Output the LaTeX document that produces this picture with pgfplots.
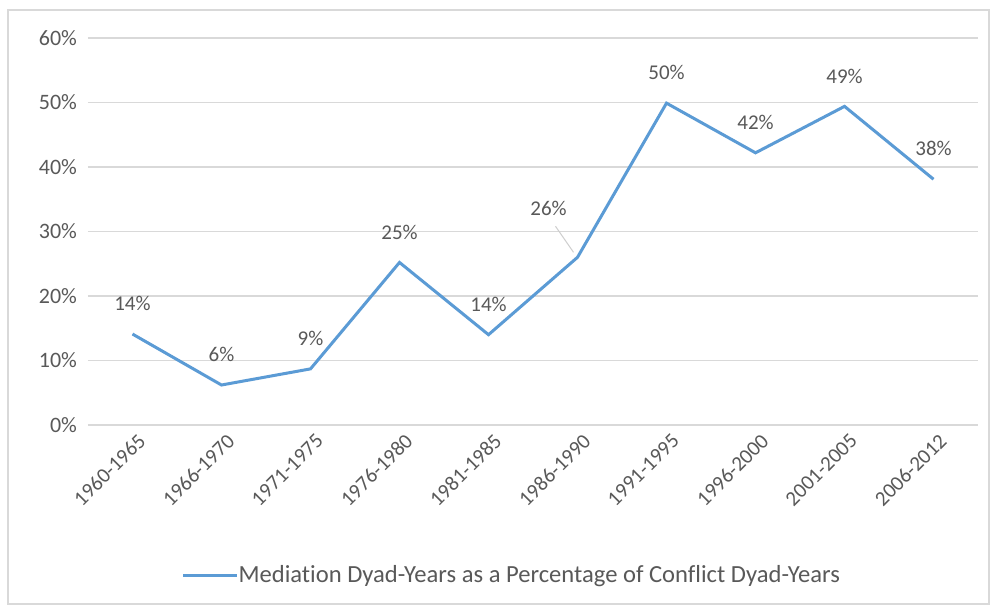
\documentclass[border=0pt]{standalone}
\usepackage{pgfplots}
\pgfplotsset{compat=1.18}
\usepackage{fontspec}
\setmainfont{Carlito}[Ligatures=NoCommon]
\definecolor{lineblue}{HTML}{5B9BD5}
\definecolor{txtgray}{HTML}{595959}
\definecolor{gridgray}{HTML}{D9D9D9}
\begin{document}
\begin{tikzpicture}
\fill[white] (0pt,0pt) rectangle (497.5pt,304pt);
\draw[gridgray, line width=0.6pt] (4pt,2pt) rectangle (494.5pt,299pt);
\begin{axis}[
  at={(44pt,91.5pt)}, anchor=south west,
  scale only axis, width=445pt, height=193.5pt,
  xmin=-0.5, xmax=9.5, ymin=0, ymax=60,
  xtick={0,...,9},
  xticklabels={1960-1965,1966-1970,1971-1975,1976-1980,1981-1985,1986-1990,1991-1995,1996-2000,2001-2005,2006-2012},
  xticklabel style={rotate=45, anchor=north east, font=\fontsize{10.5}{12}\selectfont, text=txtgray, inner sep=1pt, yshift=-3pt},
  ytick={0,10,...,60},
  yticklabel={\pgfmathprintnumber{\tick}\%},
  yticklabel style={font=\fontsize{11}{12}\selectfont, text=txtgray, xshift=-2pt},
  /pgf/number format/assume math mode=true,
  ymajorgrids, grid style={gridgray, line width=0.6pt},
  axis lines=left,
  x axis line style={draw=none, -}, y axis line style={draw=none, -},
  major tick length=0pt,
  clip=false,
  legend style={at={(0.475,-0.39)}, anchor=center, draw=none, fill=none, font=\fontsize{12.3}{14}\selectfont, text=txtgray, legend cell align=left, /tikz/every even column/.append style={column sep=0pt}, inner sep=0pt, nodes={inner xsep=0pt}},
  legend image code/.code={\draw[lineblue, line width=1.5pt] (0pt,0pt) -- (27pt,0pt);},
]
\addplot[lineblue, line width=1.5pt, mark=none,
  nodes near coords={\pgfmathprintnumber[fixed,precision=0]{\pgfplotspointmeta}\%},
  point meta=y,
  every node near coord/.append style={font=\fontsize{10.5}{12}\selectfont, text=txtgray, anchor=south, yshift=7.5pt},
  coordinate style/.condition={\coordindex==5}{xshift=-14.5pt, yshift=9pt},
] coordinates {
(0,14.1) (1,6.2) (2,8.7) (3,25.2) (4,14.0) (5,26.0) (6,49.9) (7,42.2) (8,49.4) (9,38.1)
};
\addlegendentry{Mediation Dyad-Years as a Percentage of Conflict Dyad-Years}
\draw[gridgray!80!black!60, line width=0.5pt] (axis cs:5,26) ++(-2pt,2.5pt) -- ++(-9pt,13pt);
\end{axis}
\end{tikzpicture}
\end{document}
